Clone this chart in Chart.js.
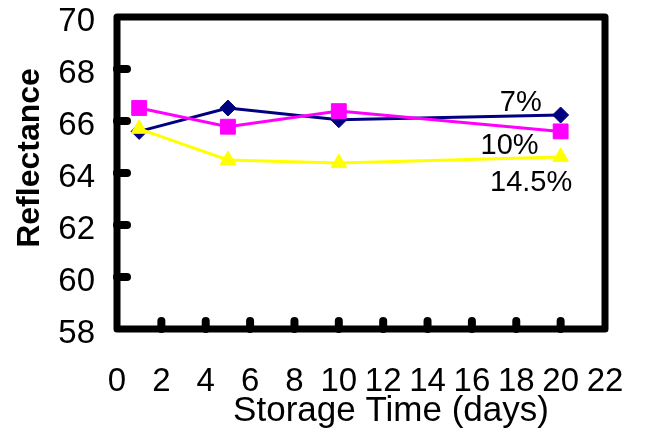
<!DOCTYPE html>
<html>
<head>
<meta charset="utf-8">
<script src="https://cdn.jsdelivr.net/npm/chart.js@4/dist/chart.umd.min.js"></script>
<style>
  html, body { margin: 0; padding: 0; background: #fff; }
  #wrap { width: 647px; height: 437px; }
</style>
</head>
<body>
<div id="wrap"><canvas id="c" width="647" height="437"></canvas></div>
<script>
// Storage time in days
const days = [1, 5, 10, 20];
// Reflectance per moisture level
const refl7 = [65.6, 66.5, 66.05, 66.23];
const refl10 = [66.5, 65.78, 66.38, 65.6];
const refl145 = [65.7, 64.5, 64.38, 64.62];
const seriesNames = ['7%', '10%', '14.5%'];
// Axis ranges
const xRange = [0, 22, 2];
const yRange = [58, 70, 2];
// Series labels placed in data space next to the curves
const seriesTags = [
  { text: '7%', x: 18.2, y: 66.7 },
  { text: '10%', x: 17.7, y: 65.04 },
  { text: '14.5%', x: 18.67, y: 63.62 }
];

const FONT = 'Liberation Sans, Arial, sans-serif';

const toPts = (vals) => vals.map((v, i) => ({ x: days[i], y: v }));

// Thick frame with rounded inward tick bumps, plus axis titles and series tags
const framePlugin = {
  id: 'frame',
  afterDatasetsDraw(chart) {
    const { ctx, chartArea: a, scales } = chart;
    ctx.save();
    ctx.strokeStyle = '#000';
    ctx.lineJoin = 'round';
    ctx.lineCap = 'round';
    ctx.lineWidth = 7;
    ctx.strokeRect(a.left, a.top, a.right - a.left, a.bottom - a.top);

    ctx.lineWidth = 8;
    scales.y.ticks.forEach(t => {
      if (t.value <= scales.y.min || t.value >= scales.y.max) return;
      const py = scales.y.getPixelForValue(t.value);
      ctx.beginPath();
      ctx.moveTo(a.left, py);
      ctx.lineTo(a.left + 10, py);
      ctx.stroke();
    });
    scales.x.ticks.forEach(t => {
      if (t.value <= scales.x.min || t.value >= scales.x.max) return;
      const px = scales.x.getPixelForValue(t.value);
      ctx.beginPath();
      ctx.moveTo(px, a.bottom);
      ctx.lineTo(px, a.bottom - 8);
      ctx.stroke();
    });

    // series tags
    ctx.fillStyle = '#000';
    ctx.font = '29px ' + FONT;
    ctx.textAlign = 'center';
    ctx.textBaseline = 'middle';
    seriesTags.forEach(s => {
      ctx.fillText(s.text, scales.x.getPixelForValue(s.x), scales.y.getPixelForValue(s.y));
    });

    // x-axis title
    ctx.font = '35px ' + FONT;
    ctx.textBaseline = 'alphabetic';
    ctx.fillText('Storage Time (days)', (a.left + a.right) / 2 + 30, 421);

    // y-axis title
    ctx.save();
    ctx.translate(30, (a.top + a.bottom) / 2 - 15);
    ctx.rotate(-Math.PI / 2);
    ctx.font = 'bold 32px ' + FONT;
    ctx.textBaseline = 'middle';
    ctx.fillText('Reflectance', 0, 0);
    ctx.restore();

    ctx.restore();
  }
};

new Chart(document.getElementById('c'), {
  type: 'line',
  data: {
    datasets: [
      {
        label: seriesNames[2], data: toPts(refl145),
        borderColor: '#FFFF00', backgroundColor: '#FFFF00',
        borderWidth: 3, pointStyle: 'triangle', pointRadius: 9,
        pointBorderWidth: 1, pointBorderColor: '#FFFF00'
      },
      {
        label: seriesNames[1], data: toPts(refl10),
        borderColor: '#FF00FF', backgroundColor: '#FF00FF',
        borderWidth: 3, pointStyle: 'rect', pointRadius: 10.5,
        pointBorderWidth: 1, pointBorderColor: '#FF00FF'
      },
      {
        label: seriesNames[0], data: toPts(refl7),
        borderColor: '#000080', backgroundColor: '#000080',
        borderWidth: 3, pointStyle: 'rectRot', pointRadius: 8,
        pointBorderWidth: 1, pointBorderColor: '#000080'
      }
    ]
  },
  options: {
    responsive: false,
    animation: false,
    events: [],
    layout: { padding: { left: 0, top: 17, right: 42, bottom: 0 } },
    plugins: { legend: { display: false }, tooltip: { enabled: false }, title: { display: false } },
    elements: { line: { tension: 0 } },
    scales: {
      x: {
        type: 'linear', min: xRange[0], max: xRange[1],
        grid: { display: false, drawTicks: false },
        border: { display: false },
        ticks: {
          stepSize: xRange[2], color: '#000', padding: 33, maxRotation: 0,
          font: { family: FONT, size: 33 }
        },
        afterFit(s) { s.height = 108; s.paddingLeft = 0; s.paddingRight = 0; }
      },
      y: {
        min: yRange[0], max: yRange[1],
        grid: { display: false, drawTicks: false },
        border: { display: false },
        ticks: {
          stepSize: yRange[2], color: '#000', padding: 22, labelOffset: 5,
          font: { family: FONT, size: 33 }
        },
        afterFit(s) { s.width = 117; s.paddingTop = 0; s.paddingBottom = 0; }
      }
    }
  },
  plugins: [framePlugin]
});
</script>
</body>
</html>
